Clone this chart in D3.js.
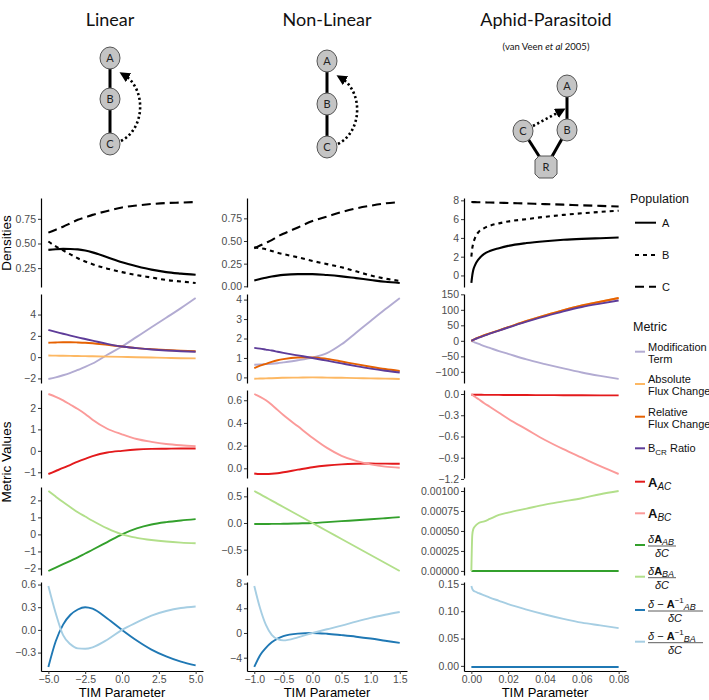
<!DOCTYPE html>
<html><head><meta charset="utf-8">
<script src="https://cdn.jsdelivr.net/npm/d3@7"></script>
<style>body{margin:0;background:#fff}svg{display:block}</style>
</head><body><svg id="c" width="709" height="700"></svg>
<script>
// ---------------- DATA ----------------
const colTitles = ["Linear", "Non-Linear", "Aphid-Parasitoid"];
const xTitle = "TIM Parameter";

// Linear column
const linX   = [-5,-4.5,-4,-3.5,-3,-2.5,-2,-1,0,1,2,3,4,5];
const linA   = [0.435,0.442,0.445,0.444,0.44,0.428,0.41,0.36,0.31,0.27,0.235,0.21,0.195,0.183];
const linB   = [0.52,0.47,0.43,0.39,0.35,0.318,0.29,0.245,0.21,0.18,0.155,0.13,0.115,0.10];
const linC   = [0.61,0.64,0.67,0.705,0.74,0.765,0.79,0.83,0.865,0.885,0.90,0.91,0.915,0.92];
const linMod = [-2.05,-1.9,-1.7,-1.47,-1.2,-0.92,-0.6,0.22,1.0,1.9,2.8,3.7,4.6,5.55];
const linAbs = [0.15,0.14,0.13,0.12,0.1,0.09,0.08,0.05,0.02,-0.01,-0.04,-0.07,-0.1,-0.12];
const linRel = [1.35,1.38,1.4,1.4,1.38,1.35,1.3,1.15,1.0,0.85,0.75,0.67,0.6,0.55];
const linBcr = [2.55,2.37,2.2,2.02,1.85,1.7,1.55,1.25,1.0,0.85,0.72,0.62,0.55,0.5];
const linAAC = [-1.08,-0.94,-0.8,-0.65,-0.5,-0.37,-0.25,-0.08,0.0,0.06,0.09,0.1,0.11,0.11];
const linABC = [2.65,2.52,2.35,2.15,1.95,1.72,1.45,1.03,0.77,0.55,0.42,0.32,0.26,0.22];
const linDAB = [-2.15,-1.95,-1.75,-1.55,-1.35,-1.12,-0.9,-0.45,0.0,0.35,0.58,0.72,0.82,0.9];
const linDBA = [2.55,2.22,1.9,1.6,1.3,1.05,0.8,0.35,0.0,-0.2,-0.33,-0.42,-0.48,-0.52];
const linIAB = [-0.49,-0.15,0.07,0.2,0.27,0.3,0.28,0.15,0.0,-0.14,-0.26,-0.35,-0.42,-0.47];
const linIBA = [0.58,0.22,-0.07,-0.19,-0.245,-0.25,-0.23,-0.13,0.0,0.1,0.19,0.25,0.29,0.31];

// Non-linear column
const nlX   = [-1,-0.9,-0.8,-0.7,-0.6,-0.5,-0.25,0,0.25,0.5,0.75,1,1.25,1.5];
const nlA   = [0.065,0.08,0.095,0.108,0.118,0.126,0.135,0.135,0.125,0.11,0.09,0.07,0.05,0.037];
const nlB   = [0.43,0.42,0.41,0.39,0.37,0.355,0.32,0.28,0.245,0.21,0.165,0.12,0.085,0.06];
const nlC   = [0.42,0.45,0.48,0.51,0.55,0.58,0.65,0.72,0.77,0.82,0.86,0.89,0.915,0.93];
const nlMod = [0.65,0.66,0.68,0.7,0.73,0.77,0.88,1.02,1.25,1.7,2.3,2.9,3.5,4.08];
const nlAbs = [-0.07,-0.06,-0.05,-0.04,-0.03,-0.02,-0.01,0.0,-0.01,-0.02,-0.035,-0.05,-0.065,-0.08];
const nlRel = [0.48,0.6,0.7,0.8,0.88,0.94,1.02,1.03,0.95,0.82,0.68,0.55,0.43,0.33];
const nlBcr = [1.52,1.48,1.43,1.38,1.32,1.26,1.13,1.0,0.86,0.72,0.58,0.45,0.34,0.25];
const nlAAC = [-0.045,-0.05,-0.05,-0.048,-0.043,-0.035,-0.012,0.01,0.025,0.035,0.04,0.042,0.041,0.04];
const nlABC = [0.655,0.63,0.6,0.56,0.515,0.47,0.37,0.27,0.18,0.11,0.065,0.035,0.015,0.005];
const nlDAB = [-0.02,-0.019,-0.018,-0.017,-0.016,-0.015,-0.008,0.0,0.017,0.035,0.052,0.07,0.09,0.11];
const nlDBA = [0.6,0.54,0.48,0.42,0.36,0.3,0.15,0.0,-0.15,-0.3,-0.45,-0.6,-0.75,-0.9];
const nlIAB = [-5.5,-3.6,-2.4,-1.5,-0.9,-0.5,-0.1,0.0,-0.12,-0.35,-0.6,-0.9,-1.25,-1.6];
const nlIBA = [7.6,4.0,1.3,-0.3,-1.0,-1.2,-0.7,0.0,0.6,1.2,1.85,2.45,2.95,3.4];

// Aphid-parasitoid column
const apX   = [0,0.0005,0.001,0.002,0.004,0.007,0.01,0.015,0.02,0.03,0.04,0.05,0.06,0.07,0.08];
const apA   = [-0.8,0.0,0.55,1.1,1.75,2.3,2.6,2.9,3.15,3.45,3.65,3.8,3.9,3.97,4.04];
const apB   = [2.0,2.9,3.4,4.0,4.65,5.05,5.3,5.55,5.75,6.0,6.25,6.45,6.62,6.77,6.9];
const apC   = [7.82,7.82,7.81,7.81,7.8,7.79,7.77,7.75,7.72,7.66,7.6,7.54,7.47,7.41,7.35];
const apMod = [0,-1.5,-3,-5.5,-10,-17,-23,-33,-42,-60,-75,-89,-102,-113,-123];
const apAbs = [0,1.6,3.2,6,11,18,24,34,44,64,82,99,114,126,138];
const apRel = [0,1.6,3.2,6,11,18,24,34,44,64,82,99,114,126,138];
const apBcr = [0,1.5,3,5.5,10,17,23,33,43,62,79,95,109,120,130];
const apAAC = [-0.01,-0.01,-0.01,-0.011,-0.011,-0.012,-0.012,-0.013,-0.014,-0.015,-0.016,-0.017,-0.018,-0.019,-0.02];
const apABC = [0,-0.01,-0.02,-0.04,-0.075,-0.13,-0.18,-0.265,-0.35,-0.5,-0.65,-0.78,-0.9,-1.02,-1.13];
const apDAB = [0,-0.000001,-0.000001,-0.000001,-0.000001,-0.000001,-0.000001,-0.000001,-0.000001,-0.000001,-0.000001,-0.000001,-0.000001,-0.000001,-0.000001];
const apDBA = [0,0.00045,0.00052,0.00056,0.0006,0.00062,0.00065,0.0007,0.00073,0.00078,0.00083,0.00087,0.00091,0.00096,0.001];
const apIAB = [-0.002,-0.002,-0.002,-0.002,-0.002,-0.002,-0.002,-0.002,-0.002,-0.002,-0.002,-0.002,-0.002,-0.002,-0.002];
const apIBA = [0.146,0.141,0.138,0.136,0.133,0.129,0.125,0.119,0.113,0.103,0.094,0.086,0.079,0.074,0.069];

// Tick values
const linXTicks = [-5,-2.5,0,2.5,5];
const nlXTicks  = [-1,-0.5,0,0.5,1,1.5];
const apXTicks  = [0,0.02,0.04,0.06,0.08];
const linYTicks = [[0.25,0.5,0.75],[-2,0,2,4],[-1,0,1,2],[-2,-1,0,1,2],[-0.3,0,0.3,0.6]];
const nlYTicks  = [[0,0.25,0.5,0.75],[0,1,2,3,4],[0,0.2,0.4,0.6],[-0.5,0,0.5],[-4,0,4,8]];
const apYTicks  = [[0,2,4,6,8],[-100,-50,0,50,100,150],[-1.2,-0.9,-0.6,-0.3,0],[0,0.00025,0.0005,0.00075,0.001],[0,0.05,0.1,0.15]];

// Legend
const popLabels = ["A","B","C"];
const metricLabels = ["Modification Term","Absolute Flux Change","Relative Flux Change","BCR Ratio","A_AC","A_BC","dA_AB/dC","dA_BA/dC","d-Ainv_AB/dC","d-Ainv_BA/dC"];

// ---------------- STYLE / LAYOUT ----------------
const COL = {mod:"#b2abd2", abs:"#fdb863", rel:"#e66101", bcr:"#5e3c99",
             aac:"#e31a1c", abc:"#fb9a99", dab:"#33a02c", dba:"#b2df8a",
             iab:"#1f78b4", iba:"#a6cee3"};
const DASH = {A:null, B:"4,4", C:"9,5"};
const rows = [[198,287],[294,383],[390,478],[487,575],[582,671]];
const columns = [
  {x0:41, x1:203, X:linX, xt:linXTicks, xf:".1f", yt:linYTicks, yf:[".2f","d","d","d",".1f"],
   s:[[["A",linA],["B",linB],["C",linC]],[["mod",linMod],["abs",linAbs],["rel",linRel],["bcr",linBcr]],
      [["aac",linAAC],["abc",linABC]],[["dab",linDAB],["dba",linDBA]],[["iab",linIAB],["iba",linIBA]]]},
  {x0:247, x1:407, X:nlX, xt:nlXTicks, xf:".1f", yt:nlYTicks, yf:[".2f","d",".1f",".1f","d"],
   s:[[["A",nlA],["B",nlB],["C",nlC]],[["mod",nlMod],["abs",nlAbs],["rel",nlRel],["bcr",nlBcr]],
      [["aac",nlAAC],["abc",nlABC]],[["dab",nlDAB],["dba",nlDBA]],[["iab",nlIAB],["iba",nlIBA]]]},
  {x0:464, x1:626, X:apX, xt:apXTicks, xf:".2f", yt:apYTicks, yf:["d","d",".1f",".5f",".2f"],
   s:[[["A",apA],["B",apB],["C",apC]],[["mod",apMod],["abs",apAbs],["rel",apRel],["bcr",apBcr]],
      [["aac",apAAC],["abc",apABC]],[["dab",apDAB],["dba",apDBA]],[["iab",apIAB],["iba",apIBA]]]}
];

const svg = d3.select("#c");
const TICKFONT = "'Liberation Sans', Arial, sans-serif";

function expand(ext){ const d=(ext[1]-ext[0])*0.05; return [ext[0]-d, ext[1]+d]; }

columns.forEach((c, ci) => {
  const xd = expand(d3.extent(c.X));
  const x = d3.scaleLinear().domain(xd).range([c.x0, c.x1]);
  c.s.forEach((panelSeries, ri) => {
    const [top, bot] = rows[ri];
    const all = panelSeries.flatMap(s => s[1]);
    const y = d3.scaleLinear().domain(expand(d3.extent(all))).range([bot, top]);
    const g = svg.append("g");
    const line = d3.line().x((d,i)=>x(c.X[i])).y(d=>y(d)).curve(d3.curveMonotoneX);
    panelSeries.forEach(([key, vals]) => {
      const isPop = ri === 0;
      g.append("path").attr("d", line(vals)).attr("fill","none")
        .attr("stroke", isPop ? "#000" : COL[key])
        .attr("stroke-width", isPop ? 2.1 : 1.9)
        .attr("stroke-dasharray", isPop ? DASH[key] : null);
    });
    const ya = d3.axisLeft(y).tickValues(c.yt[ri]).tickFormat(d3.format(c.yf[ri])).tickSize(3).tickSizeOuter(0).tickPadding(2);
    const ag = g.append("g").attr("transform", `translate(${c.x0},0)`).call(ya);
    styleAxis(ag);
    if (ri === 4) {
      const xa = d3.axisBottom(x).tickValues(c.xt).tickFormat(d3.format(c.xf)).tickSize(3).tickSizeOuter(0).tickPadding(2);
      const xg = svg.append("g").attr("transform", `translate(0,${bot})`).call(xa);
      styleAxis(xg);
      svg.append("text").attr("x", (c.x0+c.x1)/2).attr("y", 697).attr("text-anchor","middle")
        .attr("font-family", TICKFONT).attr("font-size", 13).attr("fill","#000").text(xTitle);
    }
  });
});

function styleAxis(a){
  a.select(".domain").attr("stroke","#000").attr("stroke-width",1.2);
  a.selectAll(".tick line").attr("stroke","#333").attr("stroke-width",1);
  a.selectAll(".tick text").attr("font-family",TICKFONT).attr("font-size",10.5).attr("fill","#4d4d4d");
}

// y axis titles
svg.append("text").attr("transform","translate(11,243) rotate(-90)").attr("text-anchor","middle")
  .attr("font-family",TICKFONT).attr("font-size",13.5).text("Densities");
svg.append("text").attr("transform","translate(11,462) rotate(-90)").attr("text-anchor","middle")
  .attr("font-family",TICKFONT).attr("font-size",13.5).text("Metric Values");

// ---------------- TITLES & DIAGRAMS ----------------
const TFONT = "Lato, 'Open Sans', sans-serif";
[[110,colTitles[0]],[327,colTitles[1]],[546,colTitles[2]]].forEach(([tx,t])=>{
  svg.append("text").attr("x",tx).attr("y",26).attr("text-anchor","middle").attr("font-family",TFONT)
    .attr("font-size",18).attr("fill","#111").text(t);
});
const vv = svg.append("text").attr("x",546).attr("y",50).attr("text-anchor","middle").attr("font-family",TFONT)
  .attr("font-size",9.5).attr("fill","#111");
vv.append("tspan").text("(van Veen ");
vv.append("tspan").attr("font-style","italic").text("et al");
vv.append("tspan").text(" 2005)");

const defs = svg.append("defs");
defs.append("marker").attr("id","ah").attr("viewBox","0 0 10 10").attr("refX",5).attr("refY",5)
  .attr("markerWidth",4).attr("markerHeight",4).attr("orient","auto-start-reverse")
  .append("path").attr("d","M0,0 L10,5 L0,10 z").attr("fill","#000");

function edge(a,b){ svg.append("line").attr("x1",a[0]).attr("y1",a[1]).attr("x2",b[0]).attr("y2",b[1])
  .attr("stroke","#000").attr("stroke-width",3); }
function node(p,label,sq){
  if (sq) {
    const r=11, k=4;
    svg.append("path").attr("d",`M${p[0]-r+k},${p[1]-r} H${p[0]+r-k} L${p[0]+r},${p[1]-r+k} V${p[1]+r-k} L${p[0]+r-k},${p[1]+r} H${p[0]-r+k} L${p[0]-r},${p[1]+r-k} V${p[1]-r+k} Z`)
      .attr("fill","#c4c4c4").attr("stroke","#555").attr("stroke-width",1);
  } else {
    svg.append("ellipse").attr("cx",p[0]).attr("cy",p[1]).attr("rx",10).attr("ry",11)
      .attr("fill","#c4c4c4").attr("stroke","#555").attr("stroke-width",1);
  }
  svg.append("text").attr("x",p[0]).attr("y",p[1]+4).attr("text-anchor","middle").attr("font-family",TFONT)
    .attr("font-size",11).attr("fill","#222").text(label);
}
function dotted(d){ svg.append("path").attr("d",d).attr("fill","none").attr("stroke","#000").attr("stroke-width",2.6)
  .attr("stroke-dasharray","2.2,2.6").attr("marker-end","url(#ah)"); }

// Linear
{ const A=[110,58],B=[110,99],C=[110,144];
  edge(A,B); edge(B,C);
  dotted("M121,141 C146,128 146,88 124,75");
  node(A,"A"); node(B,"B"); node(C,"C"); }
// Non-linear
{ const A=[327,61],B=[327,104],C=[327,147];
  edge(A,B); edge(B,C);
  dotted("M338,144 C363,131 363,91 341,78");
  node(A,"A"); node(B,"B"); node(C,"C"); }
// Aphid
{ const A=[567,86],B=[567,130],C=[523,131],R=[546,167];
  edge(A,B); edge(B,R); edge(C,R);
  dotted("M533,126 L561,111");
  node(A,"A"); node(B,"B"); node(C,"C"); node(R,"R",true); }

// ---------------- LEGEND ----------------
const LF = TICKFONT;
svg.append("text").attr("x",630).attr("y",203).attr("font-family",LF).attr("font-size",12.5).attr("fill","#111").text("Population");
[[222.7,"A"],[255,"B"],[286.7,"C"]].forEach(([ly,l])=>{
  svg.append("line").attr("x1",635).attr("x2",656).attr("y1",ly).attr("y2",ly).attr("stroke","#000")
    .attr("stroke-width",2).attr("stroke-dasharray",DASH[l]);
  svg.append("text").attr("x",662).attr("y",ly+4).attr("font-family",LF).attr("font-size",11).attr("fill","#111").text(l);
});
svg.append("text").attr("x",633).attr("y",331).attr("font-family",LF).attr("font-size",12.5).attr("fill","#111").text("Metric");

const mkeys = ["mod","abs","rel","bcr","aac","abc","dab","dba","iab","iba"];
const mys = [351.7,384,416.7,448.3,481.7,513.3,545,576.7,610,641.7];
mkeys.forEach((k,i)=>{
  const ly = mys[i];
  svg.append("line").attr("x1",635).attr("x2",645).attr("y1",ly).attr("y2",ly).attr("stroke",COL[k]).attr("stroke-width",2);
  const lab = metricLabels[i];
  const t = (yy)=>svg.append("text").attr("x",648).attr("y",yy).attr("font-family",LF).attr("font-size",11).attr("fill","#111");
  if (i<3) {
    const parts = lab.split(" ");
    const l1 = parts[0], l2 = parts.slice(1).join(" ");
    t(ly-1).text(l1); t(ly+11).text(l2);
  } else if (k==="bcr") {
    const tt = t(ly+4);
    tt.append("tspan").text("B");
    tt.append("tspan").attr("font-size",8).attr("dy",3).text("CR");
    tt.append("tspan").attr("dy",-3).text(" Ratio");
  } else if (k==="aac"||k==="abc") {
    const tt = t(ly+5);
    tt.append("tspan").attr("font-weight","bold").attr("font-size",13).text("A");
    tt.append("tspan").attr("font-style","italic").attr("font-size",10).attr("dy",3).text(lab.slice(2));
  } else if (k==="dab"||k==="dba") {
    const bar = ly+1;
    const tt = t(bar-3);
    tt.append("tspan").attr("font-style","italic").text("δ");
    tt.append("tspan").attr("font-weight","bold").text("A");
    tt.append("tspan").attr("font-style","italic").attr("font-size",9).attr("dy",2).text(k==="dab"?"AB":"BA");
    svg.append("line").attr("x1",648).attr("x2",676).attr("y1",bar).attr("y2",bar).attr("stroke","#333").attr("stroke-width",0.8);
    const dn = svg.append("text").attr("x",662).attr("y",bar+11).attr("text-anchor","middle").attr("font-family",LF).attr("font-size",11).attr("fill","#111");
    dn.append("tspan").attr("font-style","italic").text("δC");
  } else {
    const bar = ly+1;
    const tt = t(bar-3);
    tt.append("tspan").attr("font-style","italic").text("δ");
    tt.append("tspan").text(" − ");
    tt.append("tspan").attr("font-weight","bold").text("A");
    tt.append("tspan").attr("font-size",8).attr("dy",-5).text("−1");
    tt.append("tspan").attr("font-style","italic").attr("font-size",9).attr("dy",7).text(k==="iab"?"AB":"BA");
    svg.append("line").attr("x1",648).attr("x2",703).attr("y1",bar).attr("y2",bar).attr("stroke","#333").attr("stroke-width",0.8);
    const dn = svg.append("text").attr("x",675).attr("y",bar+11).attr("text-anchor","middle").attr("font-family",LF).attr("font-size",11).attr("fill","#111");
    dn.append("tspan").attr("font-style","italic").text("δC");
  }
});
</script></body></html>
